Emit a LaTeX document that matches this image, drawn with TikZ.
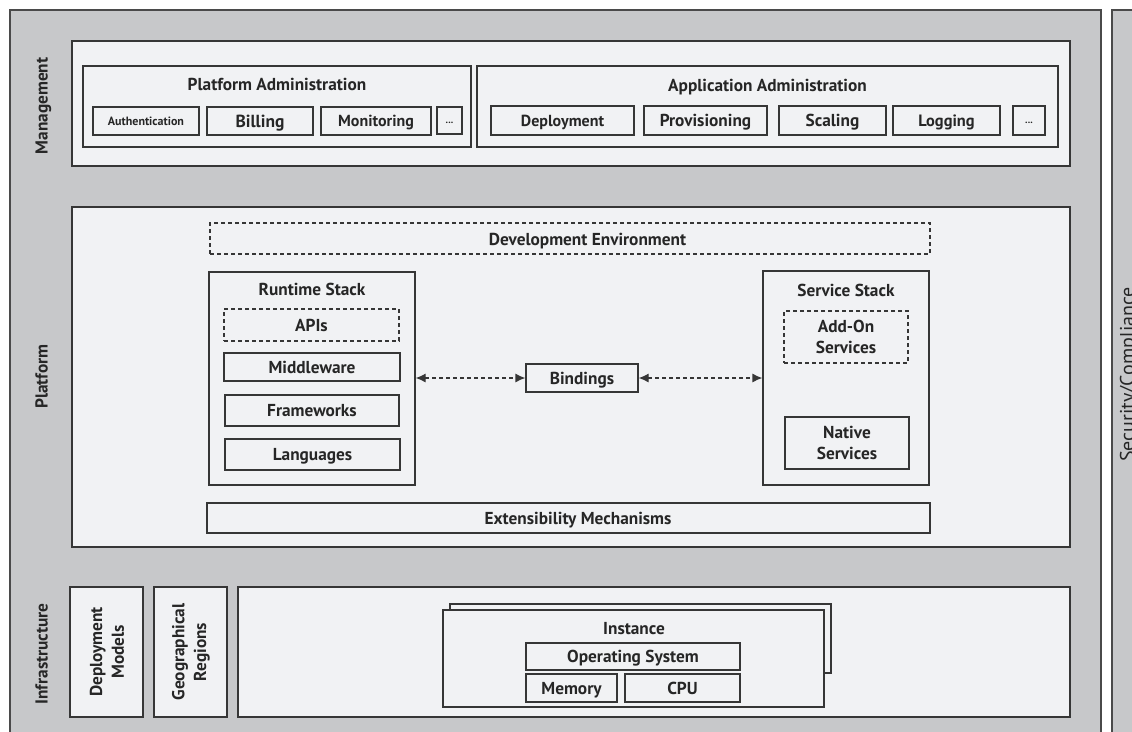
\documentclass[tikz,border=0pt]{standalone}
\usepackage{fontspec}
\setmainfont{PT Sans}
\usetikzlibrary{arrows.meta}

\definecolor{panelgray}{HTML}{C7C8CA}
\definecolor{panelline}{HTML}{4A4A4A}
\definecolor{boxfill}{HTML}{F1F2F4}
\definecolor{edge}{HTML}{363636}
\definecolor{ink}{HTML}{262626}

% box given by its corners: style, name, x1, y1, x2, y2, text
\newcommand\cornerbox[7]{%
  \node[#1, minimum width={(#5-#3)*1pt}, minimum height={(#6-#4)*1pt}]
    (#2) at ({(#3+#5)/2},{(#4+#6)/2}) {#7};}

\tikzset{
  txt/.style={font=\bfseries\fontsize{17.3}{21.7}\selectfont, text=ink},
  box/.style={draw=edge, line width=1.2pt, fill=boxfill, inner sep=0pt,
              txt, text height=12.1pt, text depth=0pt},
  smaller/.style={font=\bfseries\fontsize{#1}{20}\selectfont, text height={0.7*#1pt}},
  dbox/.style={box, dash pattern=on 4pt off 3pt},
  multi/.style={box, align=center, text height=, text depth=},
  dmulti/.style={multi, dash pattern=on 4pt off 3pt},
  title/.style={txt, anchor=base, inner sep=0pt},
  side/.style={txt, rotate=90, inner sep=0pt, text height=12.1pt, text depth=0pt},
  vtext/.style={txt, rotate=90, align=center, inner sep=0pt},
  link/.style={draw=edge, line width=1.2pt, dash pattern=on 4pt off 3pt,
               {Latex[length=10pt,width=9pt]}-{Latex[length=10pt,width=9pt]}}
}

\begin{document}
\begin{tikzpicture}[x=1pt,y=-1pt]
\useasboundingbox (0,0) rectangle (1132,731);
\clip (0,0) rectangle (1132,731);

% grey backdrop and the security column on the right
\path[fill=panelgray, draw=panelline, line width=1.2pt] (10,10) rectangle (1101,760);
\path[fill=panelgray, draw=panelline, line width=1.2pt] (1112,10) rectangle (1160,760);
\node[font=\fontsize{20}{24}\selectfont, text=ink, rotate=90, anchor=base, inner sep=0pt]
  (security) at (1134,374.5) {Security/Compliance};

% ---------------- Management ----------------
\node[side] (mgmtlabel) at (41.5,106) {Management};
\cornerbox{box}{mgmt}{72}{41}{1070}{166}{}

\cornerbox{box}{padmin}{83}{66}{471}{147}{}
\node[title] (padmint) at (277,90) {Platform Administration};
\cornerbox{box, smaller=12}{auth}{93}{107}{199}{135}{Authentication}
\cornerbox{box, smaller=17.5}{billing}{207}{107}{313}{135}{Billing}
\cornerbox{box, smaller=16}{monitoring}{321}{107}{431}{135}{Monitoring}
\cornerbox{box, font=\bfseries\fontsize{10}{12}\selectfont, text height=5pt}{pdots}{437}{107}{462}{134}{...}

\cornerbox{box}{aadmin}{477}{66}{1058}{147}{}
\node[title] (aadmint) at (767.5,91.5) {Application Administration};
\cornerbox{box, smaller=16}{deploy}{491}{106}{634}{135}{Deployment}
\cornerbox{box}{prov}{644}{106}{767}{135}{Provisioning}
\cornerbox{box}{scaling}{779}{106}{886}{135}{Scaling}
\cornerbox{box, smaller=16.4}{logging}{893}{106}{1000}{135}{Logging}
\cornerbox{box, font=\bfseries\fontsize{10}{12}\selectfont, text height=5pt}{adots}{1013}{106}{1045}{135}{...}

% ---------------- Platform ----------------
\node[side] (platlabel) at (41.5,376.5) {Platform};
\cornerbox{box}{plat}{72}{207}{1070}{547}{}

\cornerbox{dbox}{devenv}{210}{223}{930}{254}{}
\node[txt, text height=12.1pt, text depth=0pt, inner sep=0pt] (devenvt) at (587.5,239) {Development Environment};

\cornerbox{box}{runtime}{209}{272}{415}{485}{}
\node[title] (runtimet) at (312,295.7) {Runtime Stack};
\cornerbox{dbox}{apis}{224}{309}{399}{341}{APIs}
\cornerbox{box}{middleware}{224}{353}{400}{381}{Middleware}
\cornerbox{box}{frameworks}{225}{395}{399}{426}{Frameworks}
\cornerbox{box}{languages}{225}{439}{400}{470}{Languages}

\cornerbox{box}{bindings}{526}{364}{638}{392}{Bindings}

\cornerbox{box}{service}{763}{271}{929}{485}{}
\node[title] (servicet) at (846,296) {Service Stack};
\cornerbox{dmulti}{addon}{784}{311}{908}{363}{Add-On\\Services}
\cornerbox{multi}{native}{785}{417}{909}{469}{Native\\Services}

\cornerbox{box}{extens}{207}{503}{930}{533}{}
\node[txt, text height=12.1pt, text depth=0pt, inner sep=0pt] (extenst) at (578,518) {Extensibility Mechanisms};

\draw[link] (bindings.west -| runtime.east) -- (bindings.west);
\draw[link] (bindings.east) -- (bindings.east -| service.west);

% ---------------- Infrastructure ----------------
\node[side] (infralabel) at (41.5,654) {Infrastructure};
\cornerbox{box}{depmodels}{70}{587}{143}{717}{}
\node[vtext] (depmodelst) at (107,652) {Deployment\\Models};
\cornerbox{box}{georegions}{154}{587}{227}{717}{}
\node[vtext] (georegionst) at (191,652) {Geographical\\Regions};

\cornerbox{box}{infra}{238}{587}{1070}{717}{}
\cornerbox{box}{instback}{450}{604}{831}{673}{}
\cornerbox{box}{instance}{443}{610}{824}{707}{}
\node[title] (instancet) at (634,634) {Instance};
\cornerbox{box}{os}{526}{643}{740}{670}{Operating System}
\cornerbox{box}{memory}{526}{674}{617}{702}{Memory}
\cornerbox{box}{cpu}{625}{674}{740}{702}{CPU}

\end{tikzpicture}
\end{document}
